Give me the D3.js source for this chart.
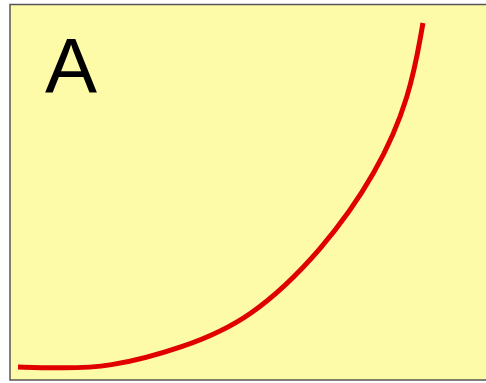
<!DOCTYPE html>
<meta charset="utf-8">
<style>
body { margin: 0; background: #fff; }
svg { display: block; }
.label { font-family: 'Liberation Sans', Arial, sans-serif; font-size: 78px; fill: #000; }
</style>
<body>
<svg width="486" height="383"></svg>
<script src="https://d3js.org/d3.v7.min.js"></script>
<script>

// curve (0..100 in both directions)
var xs = [0, 9.1, 22.1, 40.5, 57.0, 74.9, 88.2, 96.3, 99.5];
var ys = [0.3, 0, 0, 5.8, 13.9, 34.1, 56.4, 78.3, 99.7];
var panelLabel = "A";

var svg = d3.select("svg");

svg.append("rect")
    .attr("x", 10)
    .attr("y", 4.5)
    .attr("width", 490)
    .attr("height", 375.5)
    .attr("fill", "#fefba8")
    .attr("stroke", "#555")
    .attr("stroke-width", 1.5);

var x = d3.scaleLinear()
    .domain([0, 100])
    .range([18, 425]);

var y = d3.scaleLinear()
    .domain([0, 100])
    .range([368, 22]);

var pts = xs.map(function(d, i) { return [d, ys[i]]; });

var line = d3.line()
    .x(function(d) { return x(d[0]); })
    .y(function(d) { return y(d[1]); })
    .curve(d3.curveBasis);

svg.append("path")
    .datum(pts)
    .attr("d", line)
    .attr("fill", "none")
    .attr("stroke", "#e00000")
    .attr("stroke-width", 5)
    .attr("stroke-linecap", "butt");

svg.append("text")
    .attr("class", "label")
    .attr("x", 45)
    .attr("y", 93)
    .text(panelLabel);

</script>
</body>
